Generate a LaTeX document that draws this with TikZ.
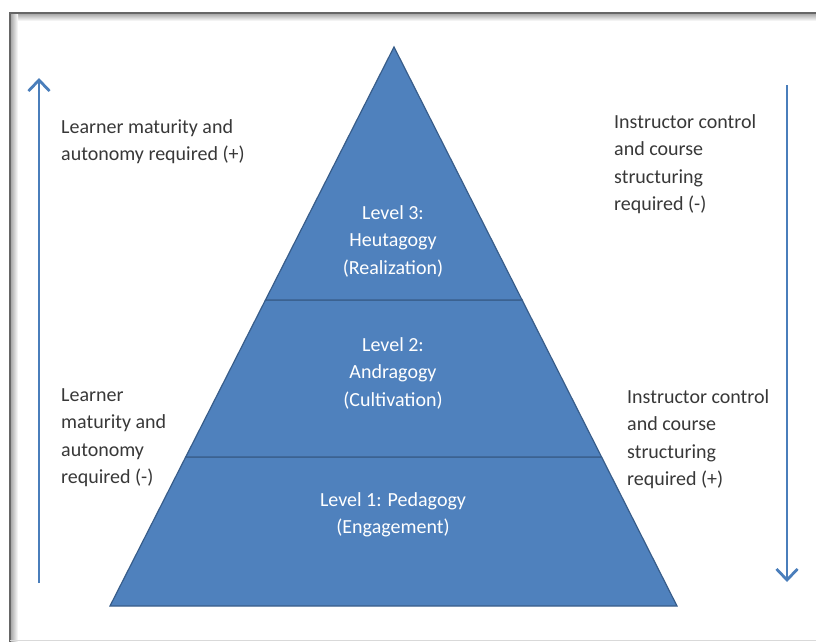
\documentclass[tikz,border=0pt]{standalone}
\usepackage{fontspec}
\setmainfont{Carlito}
\usepackage{tikz}
\usetikzlibrary{arrows.meta,positioning,calc}
\definecolor{pyrblue}{HTML}{4F81BD}
\definecolor{pyredge}{HTML}{385D8A}
\definecolor{arrowblue}{HTML}{4A7EBB}
\definecolor{textgray}{HTML}{383838}
\tikzset{
    tier/.style={
        fill=pyrblue,
        draw=pyredge,
        line width=1.2pt,
        line join=miter,
    },
    sidetext/.style={
        anchor=base west,
        align=left,
        inner sep=0pt,
        text=textgray,
        font=\fontsize{20}{27.5}\selectfont,
    },
    leveltext/.style={
        anchor=base,
        align=center,
        inner sep=0pt,
        text=white,
        font=\fontsize{20}{27.5}\selectfont,
    },
    scalearrow/.style={
        draw=arrowblue,
        line width=2.8pt,
        -{Straight Barb[length=11pt,width=21pt]},
    },
}
\begin{document}
\begin{tikzpicture}[x=1pt, y=-1pt]
\useasboundingbox (0,0) rectangle (816,642);

% frame with soft shadow
\shade [top color=gray!75, bottom color=white] (10,13) rectangle (816,21);
\shade [left color=gray!75, right color=white] (10,13) rectangle (18,642);
\draw [gray!80!black, line width=1.5pt] (816,13) -- (10,13) -- (10,642);
\draw [gray!30, line width=1pt] (10,640.5) -- (816,640.5);

% pyramid corners
\coordinate (apex) at (394,47);
\coordinate (bl) at (110,606);
\coordinate (br) at (677,606);
\coordinate (ul) at ($(apex)!0.4526!(bl)$);
\coordinate (ur) at ($(apex)!0.4526!(br)$);
\coordinate (ml) at ($(apex)!0.7335!(bl)$);
\coordinate (mr) at ($(apex)!0.7335!(br)$);

% tiers
\draw [tier] (bl) -- (br) -- (mr) -- (ml) -- cycle;
\draw [tier] (ml) -- (mr) -- (ur) -- (ul) -- cycle;
\draw [tier] (ul) -- (ur) -- (apex) -- cycle;

% level labels (base = last line)
\node [leveltext] (lev3) at (393,274) {Level 3:\\ Heutagogy\\ (Realization)};
\node [leveltext] (lev2) at (393,406) {Level 2:\\ Andragogy\\ (Cultivation)};
\node [leveltext] (lev1) at (393,533.5) {Level 1: Pedagogy\\ (Engagement)};

% side labels
\node [sidetext] (learnhi) at (61,160.5) {Learner maturity and\\ autonomy required (+)};
\node [sidetext] (learnlo) at (61,483.5) {Learner\\ maturity and\\ autonomy\\ required (-)};
\node [sidetext] (instrlo) at (614,210.5) {Instructor control\\ and course\\ structuring\\ required (-)};
\node [sidetext] (instrhi) at (627,485.5) {Instructor control\\ and course\\ structuring\\ required (+)};

% arrows
\coordinate (lbot) at (39,583);
\coordinate (ltop) at (39,78);
\coordinate (rtop) at (787,85);
\coordinate (rbot) at (787,582);
\draw [scalearrow] (lbot) -- (ltop);
\draw [scalearrow] (rtop) -- (rbot);

\end{tikzpicture}
\end{document}
